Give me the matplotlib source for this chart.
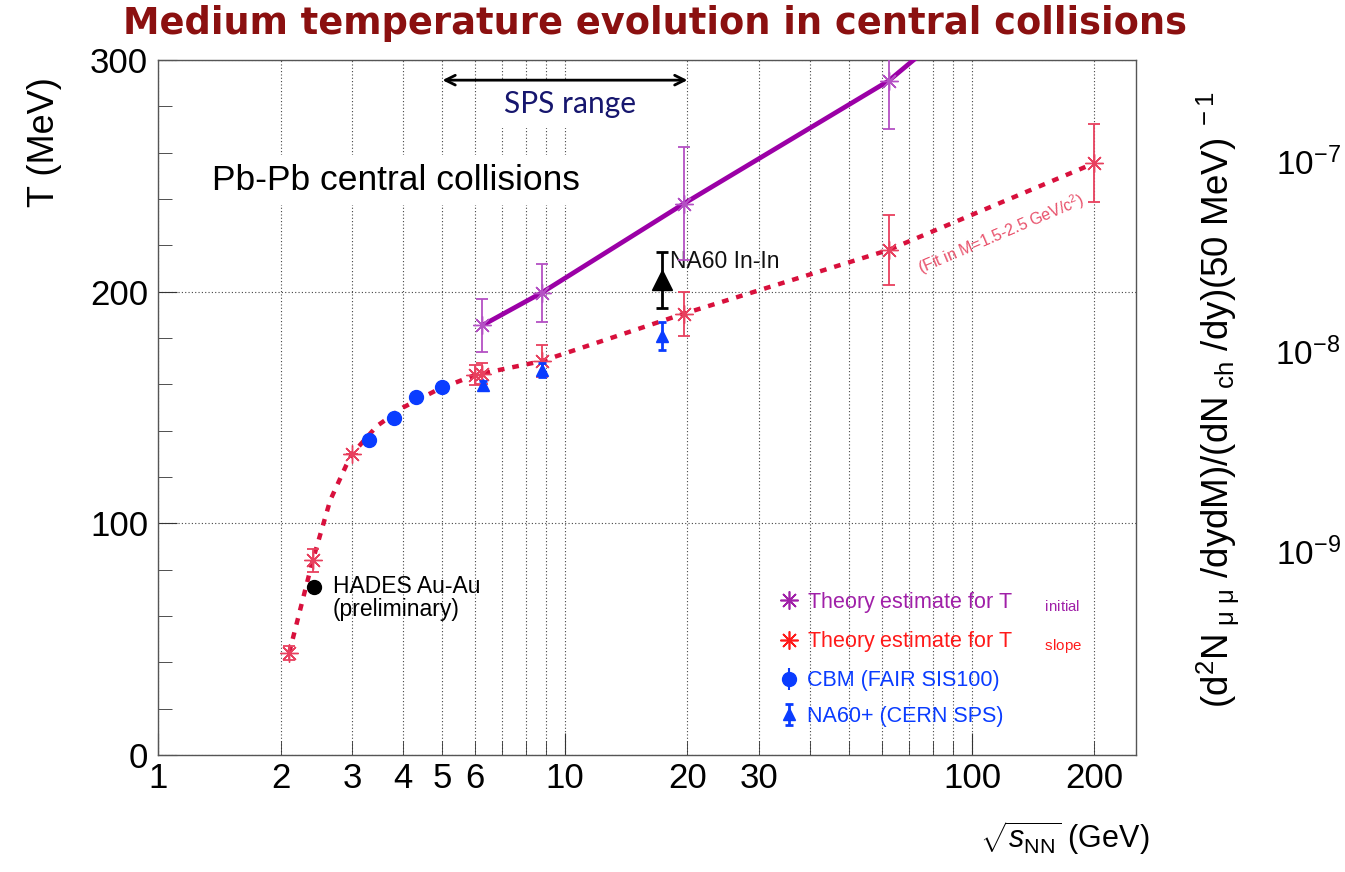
import numpy as np
import matplotlib
matplotlib.use("Agg")
import matplotlib.pyplot as plt
from matplotlib.lines import Line2D
from matplotlib.ticker import FixedLocator, FixedFormatter, NullFormatter

plt.rcParams['font.family'] = ['Liberation Sans', 'DejaVu Sans']
plt.rcParams['mathtext.fontset'] = 'custom'
plt.rcParams['mathtext.rm'] = 'Liberation Sans'
plt.rcParams['mathtext.it'] = 'Liberation Sans:italic'
plt.rcParams['mathtext.bf'] = 'Liberation Sans:bold'

# ---------------- data ----------------
# Theory estimate for T_slope (red asterisks)
slope_x = [2.1, 2.4, 3.0, 6.0, 6.27, 8.76, 19.6, 62.4, 200]
slope_T = [44, 84, 130, 164, 164.5, 170, 190.5, 218, 255.5]
slope_err = [3, 5, 0, 4.5, 4.5, 7, 9.5, 15, 17]

# smooth fit curve through T_slope (red dotted)
slope_fit_x = [2.1, 2.4, 2.65, 2.9, 3.0, 3.45, 4.0, 4.84, 5.43, 6.0, 8.76, 19.6, 62.4, 200]
slope_fit_T = [44, 84, 110, 125, 130, 142, 150, 157.5, 161, 164, 170, 190.5, 218, 255.5]

# Theory estimate for T_initial (purple)
init_x = [6.27, 8.76, 19.6, 62.4]
init_T = [185.5, 199.5, 238, 291]
init_err = [11.5, 12.5, 24.5, 21]
init_fit_x = [6.27, 8.76, 19.6, 62.4, 73]
init_fit_T = [185.5, 199.5, 238, 291, 301]

# CBM (FAIR SIS100)
cbm_x = [3.3, 3.8, 4.3, 4.98]
cbm_T = [136, 145.5, 154.5, 159]
cbm_err = [0.5, 0.5, 0.5, 0.5]

# NA60+ (CERN SPS)
na60p_x = [6.3, 8.76, 17.3]
na60p_T = [159.5, 166, 181]
na60p_err = [2, 3, 6]

# NA60 In-In
na60_x = [17.3]
na60_T = [205]
na60_err = [12]

# HADES Au-Au (preliminary)
hades_x = [2.42]
hades_T = [72.5]

# axis ticks
x_major = [1, 10, 100]
x_minor = [2, 3, 4, 5, 6, 7, 8, 9, 20, 30, 40, 50, 60, 70, 80, 90, 200]
x_minor_labels = ['2', '3', '4', '5', '6', '', '', '', '20', '30', '', '', '', '', '', '', '200']
y_major = [0, 100, 200, 300]
y_minor = [20, 40, 60, 80, 120, 140, 160, 180, 220, 240, 260, 280]
right_labels = [r'$10^{-7}$', r'$10^{-8}$', r'$10^{-9}$']

# ---------------- colours ----------------
c_purple = '#9b00a6'
c_purple_err = '#b450c4'
c_purple_txt = '#a020a8'
c_red_line = '#d8103c'
c_red_err = '#e8405e'
c_red_txt = '#ff1a1a'
c_blue = '#0a3cff'
c_title = '#8b1010'

W, H = 1345, 872
fig = plt.figure(figsize=(W / 100, H / 100), dpi=100)
ax = fig.add_axes([158 / W, (H - 755) / H, (1136 - 158) / W, (755 - 60) / H])

ax.set_xscale('log')
ax.set_xlim(1, 253)
ax.set_ylim(0, 300)

# grid / ticks
ax.xaxis.set_major_locator(FixedLocator(x_major))
ax.xaxis.set_minor_locator(FixedLocator(x_minor))
ax.xaxis.set_major_formatter(FixedFormatter([str(v) for v in x_major]))
ax.xaxis.set_minor_formatter(FixedFormatter(x_minor_labels))
ax.yaxis.set_major_locator(FixedLocator(y_major))
ax.yaxis.set_minor_locator(FixedLocator(y_minor))
ax.yaxis.set_minor_formatter(NullFormatter())
ax.grid(True, which='both', axis='x', ls=(0, (1, 2)), color='#444444', lw=0.8)
ax.grid(True, which='major', axis='y', ls=(0, (1, 2)), color='#444444', lw=0.8)
ax.set_axisbelow(True)

ax.tick_params(axis='both', which='both', direction='in', labelsize=25, color='#333333')
ax.tick_params(axis='x', which='major', length=16, pad=5)
ax.tick_params(axis='x', which='minor', length=10, pad=5)
ax.tick_params(axis='y', which='major', length=14, pad=7)
ax.tick_params(axis='y', which='minor', length=10)
for s in ax.spines.values():
    s.set_color('#555555')
    s.set_linewidth(1.0)

# curves
ax.plot(init_fit_x, init_fit_T, color=c_purple, lw=3.4, solid_capstyle='butt', zorder=3)
ax.plot(slope_fit_x, slope_fit_T, color=c_red_line, lw=3.2, ls=(0, (1.5, 1.8)), zorder=3)

# theory points
ax.errorbar(init_x, init_T, yerr=init_err, fmt='none', ecolor=c_purple_err, elinewidth=1.3,
            capsize=4, capthick=1.3, zorder=4)
ax.plot(init_x, init_T, ls='none', marker=(8, 2, 0), ms=13, mew=1.0, color=c_purple_err, zorder=4)
ax.errorbar(slope_x, slope_T, yerr=slope_err, fmt='none', ecolor=c_red_err, elinewidth=1.3,
            capsize=4, capthick=1.3, zorder=4)
ax.plot(slope_x, slope_T, ls='none', marker=(8, 2, 0), ms=13, mew=1.0, color=c_red_err, zorder=4)

# measurements
cbm_h = ax.errorbar(cbm_x, cbm_T, yerr=cbm_err, fmt='o', color=c_blue, ms=10, elinewidth=1.5,
                    capsize=0, zorder=5)
na60p_h = ax.errorbar(na60p_x, na60p_T, yerr=na60p_err, fmt='^', color=c_blue, ms=9,
                      elinewidth=2, capsize=3, capthick=2, zorder=5)
ax.errorbar(na60_x, na60_T, yerr=na60_err, fmt='^', color='black', ms=15, elinewidth=2,
            capsize=4, capthick=2, zorder=5)
ax.plot(hades_x, hades_T, 'o', color='black', ms=10, zorder=5)

# annotations
ax.text(1.357, 248, 'Pb-Pb central collisions', fontsize=25.5, ha='left', va='center',
        bbox=dict(facecolor='white', edgecolor='none', pad=6), zorder=2)
ax.text(2.69, 77.5, 'HADES Au-Au\n(preliminary)', fontsize=16.5, ha='left', va='top',
        linespacing=0.95)
ax.text(18.1, 213, 'NA60 In-In', fontsize=16.5, ha='left', va='center', color='#111111')
ax.text(118, 225, r'(Fit in M=1.5-2.5 GeV/c$^{2}$)', fontsize=11.5, color='#e8506a',
        rotation=23, ha='center', va='center', rotation_mode='anchor')

ax.annotate('', xy=(20, 291.3), xytext=(5, 291.3),
            arrowprops=dict(arrowstyle='<->,head_length=0.7,head_width=0.35', lw=2, color='black',
                            shrinkA=0, shrinkB=0), zorder=6)
ax.text(10.3, 281, 'SPS range', fontsize=21.5, color='#16166e', family=['Lato', 'DejaVu Sans'],
        ha='center', va='center', bbox=dict(facecolor='white', edgecolor='none', pad=7), zorder=2)

# legend
h1 = Line2D([], [], ls='none', marker=(8, 2, 0), ms=13, mew=1.2, color=c_purple_txt)
h2 = Line2D([], [], ls='none', marker=(8, 2, 0), ms=13, mew=1.2, color=c_red_txt)
labels = [r'Theory estimate for T$_{\ \ \ \ \ \ \ \ \mathrm{initial}}$',
          r'Theory estimate for T$_{\ \ \ \ \ \ \ \ \mathrm{slope}}$',
          'CBM (FAIR SIS100)', 'NA60+ (CERN SPS)']
leg = ax.legend([h1, h2, cbm_h, na60p_h], labels, loc='upper left',
                bbox_to_anchor=(778 / W, 1 - 590 / H), bbox_transform=fig.transFigure,
                frameon=False, fontsize=15.5, handlelength=1.0, handletextpad=0.35,
                labelspacing=0.68, borderpad=0, borderaxespad=0,
                labelcolor=[c_purple_txt, c_red_txt, c_blue, c_blue])

# figure texts
fig.text(655 / W, 1 - 24 / H, 'Medium temperature evolution in central collisions',
         fontsize=26.5, fontweight='bold', color=c_title, ha='center', va='center',
         family=['DejaVu Sans'])
fig.text(45 / W, 1 - 142 / H, 'T (MeV)', fontsize=26, rotation=90, ha='center', va='center')
fig.text(1218 / W, 1 - 400 / H,
         r'(d$^{2}$N$_{\ \mathrm{\mu\ \mu}}$ /dydM)/(dN$_{\ \mathrm{ch}}$ /dy)(50 MeV)$^{\ -1}$',
         fontsize=26.5, rotation=90, ha='center', va='center')
for lab, yp in zip(right_labels, [165, 355, 555]):
    fig.text(1308 / W, 1 - yp / H, lab, fontsize=24, ha='center', va='center')
fig.text(1065 / W, 1 - 838 / H, r'$\sqrt{s_{\mathrm{NN}}}$ (GeV)', fontsize=22,
         ha='center', va='center')

fig.savefig('out.png', dpi=100)
